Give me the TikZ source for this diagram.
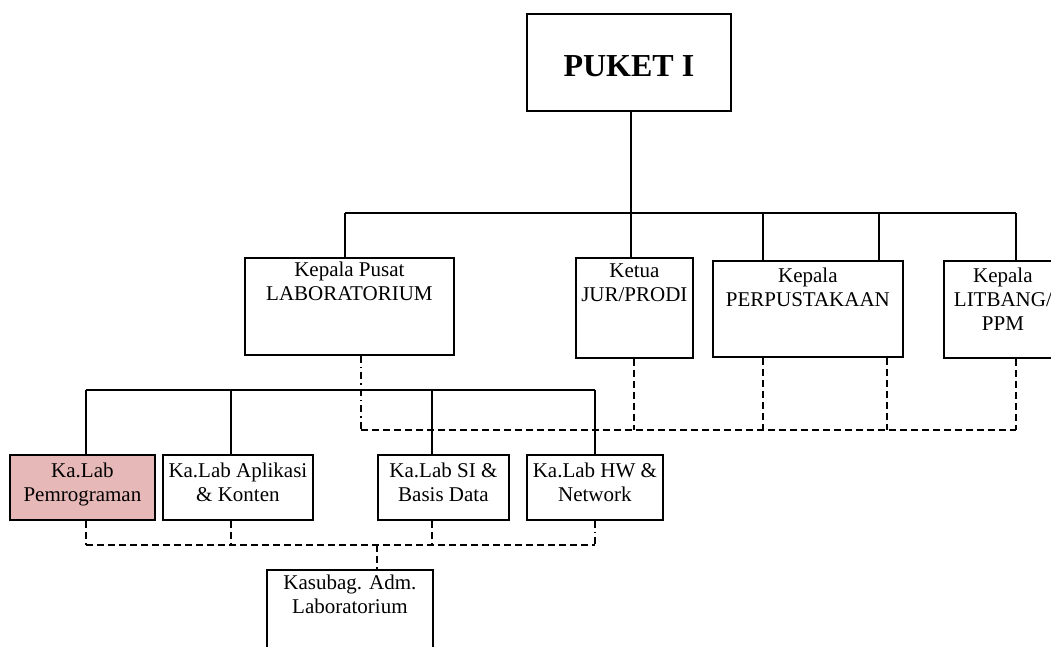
\documentclass[tikz,border=0pt]{standalone}
\usepackage{fontspec}
\setmainfont{Liberation Serif}
\definecolor{pinkfill}{RGB}{230,184,183}
\newcommand\tb[4]{\parbox[c][#2][t]{#1}{\centering\rule{0pt}{#3}#4}}
\tikzset{
 box/.style={draw, line width=1.8pt, inner sep=0pt, anchor=north west, font=\fontsize{21}{24}\selectfont},
 solidline/.style={line width=1.6pt},
 dashline/.style={line width=1.6pt, dash pattern=on 7pt off 4pt},
 dashdotline/.style={line width=1.6pt, dash pattern=on 7pt off 4pt on 1.5pt off 4pt},
}
\begin{document}
\begin{tikzpicture}[x=1pt,y=-1pt]
\useasboundingbox (0,0) rectangle (1051,646);
\clip (0,0) rectangle (1051,646);
% boxes
\node[box] (puket) at (526,13) {\tb{204pt}{97pt}{63pt}{\fontsize{32}{36}\selectfont\bfseries PUKET I}};
\node[box] (lab) at (244,257) {\tb{209pt}{97pt}{19pt}{Kepala Pusat\\LABORATORIUM}};
\node[box] (ketua) at (575,257) {\tb{117pt}{100pt}{20pt}{Ketua\\JUR/PRODI}};
\node[box] (perpus) at (712,260) {\tb{190pt}{96pt}{22pt}{Kepala\\PERPUSTAKAAN}};
\node[box] (litbang) at (943,260) {\tb{118pt}{97pt}{22pt}{Kepala\\LITBANG/\\PPM}};
\node[box, fill=pinkfill] (pem) at (9,454) {\tb{145pt}{65pt}{23pt}{Ka.Lab\\Pemrograman}};
\node[box] (apl) at (162,454) {\tb{150pt}{65pt}{23pt}{Ka.Lab Aplikasi\\\& Konten}};
\node[box] (si) at (377,454) {\tb{131pt}{65pt}{23pt}{Ka.Lab SI \&\\Basis Data}};
\node[box] (hw) at (526,454) {\tb{136pt}{65pt}{23pt}{Ka.Lab HW \&\\Network}};
\node[box] (kasubag) at (266,569) {\tb{166pt}{120pt}{20pt}{Kasubag. Adm.\\Laboratorium}};
% upper solid tree
\coordinate (barL) at (345,213);
\coordinate (barR) at (1016,213);
\coordinate (bp1) at (763,213);
\coordinate (bp2) at (879,213);
\coordinate (bc) at (631,213);
\draw[solidline] (puket.south -| bc) -- (bc |- ketua.north);
\draw[solidline] (barL) -- (barR);
\draw[solidline] (barL) -- (barL |- lab.north);
\draw[solidline] (bp1) -- (bp1 |- perpus.north);
\draw[solidline] (bp2) -- (bp2 |- perpus.north);
\draw[solidline] (barR) -- (barR |- litbang.north);
% upper dashed
\coordinate (dL) at (361,430);
\coordinate (dR) at (1016,430);
\coordinate (dk) at (634,430);
\coordinate (dp2) at (887,430);
\draw[dashdotline] (lab.south -| dL) -- (dL);
\draw[dashline] (dL) -- (dR);
\draw[dashline] (ketua.south -| dk) -- (dk);
\draw[dashline] (perpus.south -| bp1) -- (bp1 |- dL);
\draw[dashline] (perpus.south -| dp2) -- (dp2);
\draw[dashline] (litbang.south -| dR) -- (dR);
% lower solid tree
\coordinate (lb1) at (86,390);
\coordinate (lb2) at (231,390);
\coordinate (lb3) at (432,390);
\coordinate (lb4) at (595,390);
\draw[solidline] (lb1) -- (lb4);
\draw[solidline] (lb1) -- (lb1 |- pem.north);
\draw[solidline] (lb2) -- (lb2 |- apl.north);
\draw[solidline] (lb3) -- (lb3 |- si.north);
\draw[solidline] (lb4) -- (lb4 |- hw.north);
% lower dashed
\coordinate (ld1) at (86,545);
\coordinate (ld2) at (231,545);
\coordinate (ld3) at (432,545);
\coordinate (ld4) at (595,545);
\coordinate (kd) at (377,545);
\draw[dashline] (pem.south -| ld1) -- (ld1);
\draw[dashline] (apl.south -| ld2) -- (ld2);
\draw[dashline] (si.south -| ld3) -- (ld3);
\draw[dashdotline] (hw.south -| ld4) -- (ld4);
\draw[dashline] (ld1) -- (ld4);
\draw[dashline] (kd) -- (kd |- kasubag.north);
\end{tikzpicture}
\end{document}
